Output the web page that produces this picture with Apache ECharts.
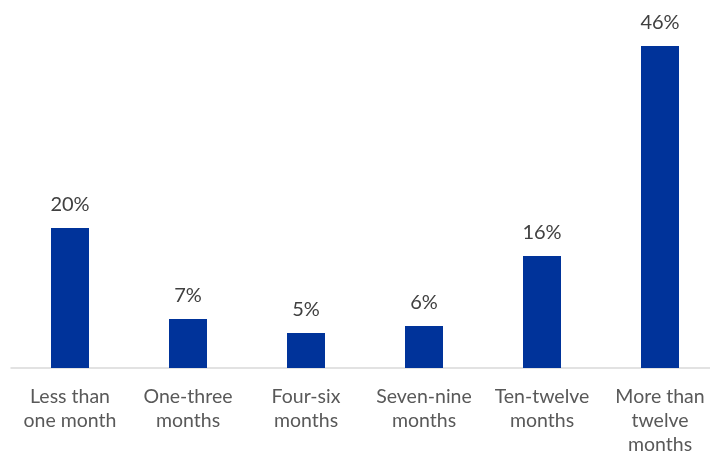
<!DOCTYPE html>
<html>
<head>
<meta charset="utf-8">
<script src="https://cdn.jsdelivr.net/npm/echarts@6/dist/echarts.min.js"></script>
<style>
  html, body { margin: 0; padding: 0; background: #fff; overflow: hidden; }
  #chart { width: 720px; height: 457px; }
</style>
</head>
<body>
<div id="chart"></div>
<script>
// duration categories and share of respondents (%)
let categories = ['Less than\none month', 'One-three\nmonths', 'Four-six\nmonths', 'Seven-nine\nmonths', 'Ten-twelve\nmonths', 'More than\ntwelve\nmonths'];
let shares = [20, 7, 5, 6, 16, 46];

let chart = echarts.init(document.getElementById('chart'));
let option = {
    backgroundColor: '#ffffff',
    animation: false,
    grid: {left: 11, top: 18, right: 1, bottom: 85, containLabel: false},
    xAxis: {
        type: 'category',
        data: categories,
        axisLine: {show: true, lineStyle: {color: '#d9d9d9', width: 1.5}},
        axisTick: {show: false},
        axisLabel: {
            interval: 0,
            margin: 17,
            color: '#595959',
            fontFamily: 'Lato',
            fontSize: 19.5,
            lineHeight: 24
        }
    },
    yAxis: {
        type: 'value',
        min: 0,
        max: 50,
        show: false,
        splitLine: {show: false}
    },
    series: [{
        type: 'bar',
        data: shares,
        barWidth: 38,
        itemStyle: {color: '#00339a'},
        label: {
            show: true,
            position: 'top',
            distance: 13,
            formatter: '{c}%',
            color: '#404040',
            fontFamily: 'Lato',
            fontSize: 20
        }
    }]
};
chart.setOption(option);
</script>
</body>
</html>
